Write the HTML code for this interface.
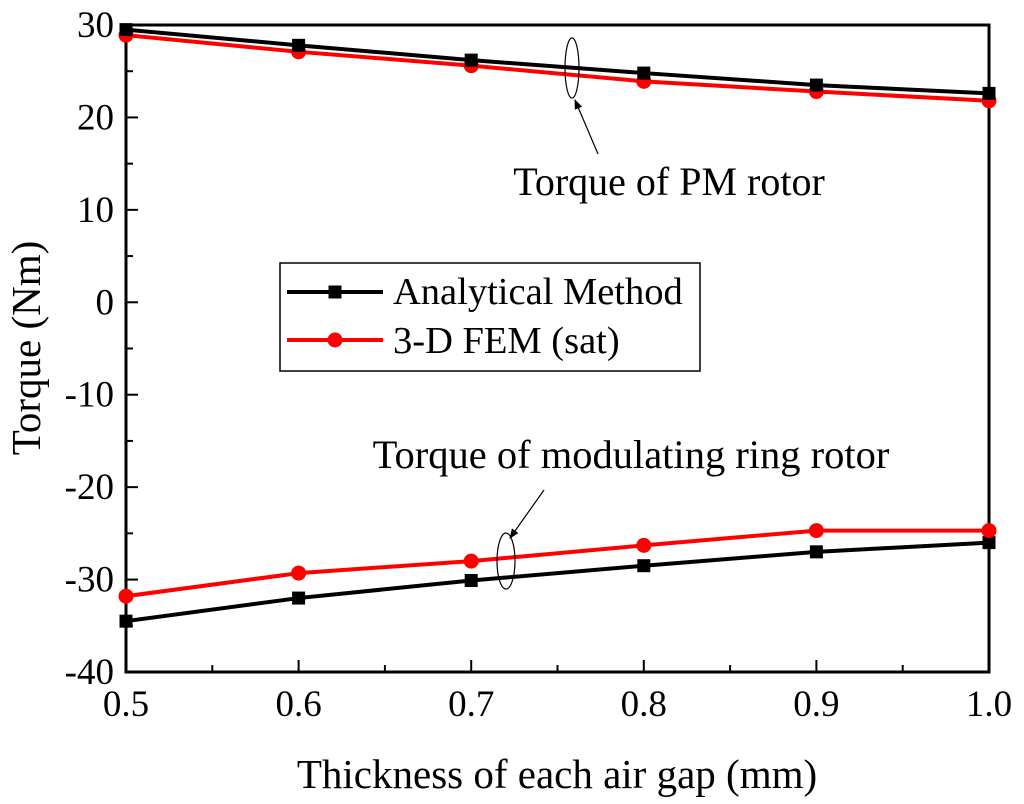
<!DOCTYPE html>
<html><head><meta charset="utf-8"><style>
body{margin:0;background:#fff}
svg{display:block;font-family:"Liberation Serif",serif}
</style></head><body>
<svg id="c" width="1024" height="804" xmlns="http://www.w3.org/2000/svg">
<defs><marker id="ah" markerWidth="10" markerHeight="10" refX="9" refY="5" orient="auto" markerUnits="userSpaceOnUse"><path d="M0,1 L10,5 L0,9 z" fill="#000"/></marker></defs>
<g id="plot"></g>
</svg>
<script>
const xs=[0.5,0.6,0.7,0.8,0.9,1.0];
const pmAnalytical=[29.5,27.8,26.2,24.8,23.5,22.6];
const pmFem=[28.9,27.1,25.6,23.9,22.8,21.8];
const ringAnalytical=[-34.5,-32.0,-30.1,-28.5,-27.0,-26.0];
const ringFem=[-31.8,-29.3,-28.0,-26.3,-24.7,-24.7];
const xTicks=["0.5","0.6","0.7","0.8","0.9","1.0"];
const yTicks=[30,20,10,0,-10,-20,-30,-40];

const L=126,R=989,T=25,B=672;
const X=v=>L+(v-0.5)/0.5*(R-L);
const Y=v=>T+(30-v)/70*(B-T);
const NS="http://www.w3.org/2000/svg";
const g=document.getElementById('plot');
function mk(tag,at,parent){const e=document.createElementNS(NS,tag);for(const k in at)e.setAttribute(k,at[k]);(parent||g).appendChild(e);return e;}

let fr=mk('rect',{x:L,y:T,width:R-L,height:B-T,fill:'none',stroke:'#000','stroke-width':3});



for(let i=0;i<=10;i++){const v=0.5+i*0.05;const len=i%2==0?12:7;
 const t=mk('line',{x1:X(v),x2:X(v),y1:B,y2:B-len,stroke:'#000','stroke-width':2});
 
 }
xTicks.forEach((s,i)=>{const t=mk('text',{x:X(xs[i]),y:B+44,'font-size':37,'text-anchor':'middle'});t.textContent=s;
 
 });
for(let v=-40;v<=30;v+=5){const len=v%10==0?12:7;
 const t=mk('line',{x1:L,x2:L+len,y1:Y(v),y2:Y(v),stroke:'#000','stroke-width':2});
 
 }
yTicks.forEach(v=>{const t=mk('text',{x:L-12,y:Y(v)+12,'font-size':37,'text-anchor':'end'});t.textContent=v;
 
 });

let xt=mk('text',{x:557,y:788,'font-size':41,'text-anchor':'middle'});xt.textContent='Thickness of each air gap (mm)';


let yt=mk('text',{x:0,y:0,'font-size':41,'text-anchor':'middle',transform:'translate(40,348) rotate(-90)'});yt.textContent='Torque (Nm)';



function series(vals,color,marker,name){
 const p=mk('polyline',{points:vals.map((v,i)=>X(xs[i])+','+Y(v)).join(' '),fill:'none',stroke:color,'stroke-width':4});
 
 
 vals.forEach((v,i)=>{let m;
  if(marker=='sq')m=mk('rect',{x:X(xs[i])-6.5,y:Y(v)-6.5,width:13,height:13,fill:color});
  else m=mk('circle',{cx:X(xs[i]),cy:Y(v),r:7.5,fill:color});
  
  });
}
series(pmFem,'#f00','c','pm-fem');
series(pmAnalytical,'#000','sq','pm-analytical');
series(ringAnalytical,'#000','sq','ring-analytical');
series(ringFem,'#f00','c','ring-fem');

const lg=mk('g',{});


mk('rect',{x:280,y:263,width:420,height:108,fill:'#fff',stroke:'#000','stroke-width':1.5},lg);
mk('line',{x1:287,x2:383,y1:292,y2:292,stroke:'#000','stroke-width':4},lg);
mk('rect',{x:328.5,y:285.5,width:13,height:13,fill:'#000'},lg);
let t1=mk('text',{x:393,y:304,'font-size':38.5},lg);t1.textContent='Analytical Method';


mk('line',{x1:287,x2:383,y1:340,y2:340,stroke:'#f00','stroke-width':4},lg);
mk('circle',{cx:335,cy:340,r:7.5,fill:'#f00'},lg);
let t2=mk('text',{x:393,y:353,'font-size':38.5},lg);t2.textContent='3-D FEM (sat)';



mk('ellipse',{cx:572,cy:68,rx:7,ry:30,fill:'none',stroke:'#000','stroke-width':1.2});
mk('line',{x1:598,y1:154,x2:575,y2:100,stroke:'#000','stroke-width':1.2,'marker-end':'url(#ah)'});
let a1=mk('text',{x:669,y:195,'font-size':40,'text-anchor':'middle'});a1.textContent='Torque of PM rotor';


mk('ellipse',{cx:506,cy:561,rx:9,ry:28,fill:'none',stroke:'#000','stroke-width':1.2});
mk('line',{x1:544,y1:490,x2:510,y2:538,stroke:'#000','stroke-width':1.2,'marker-end':'url(#ah)'});
let a2=mk('text',{x:631,y:468,'font-size':40.5,'text-anchor':'middle'});a2.textContent='Torque of modulating ring rotor';


</script>
</body></html>
